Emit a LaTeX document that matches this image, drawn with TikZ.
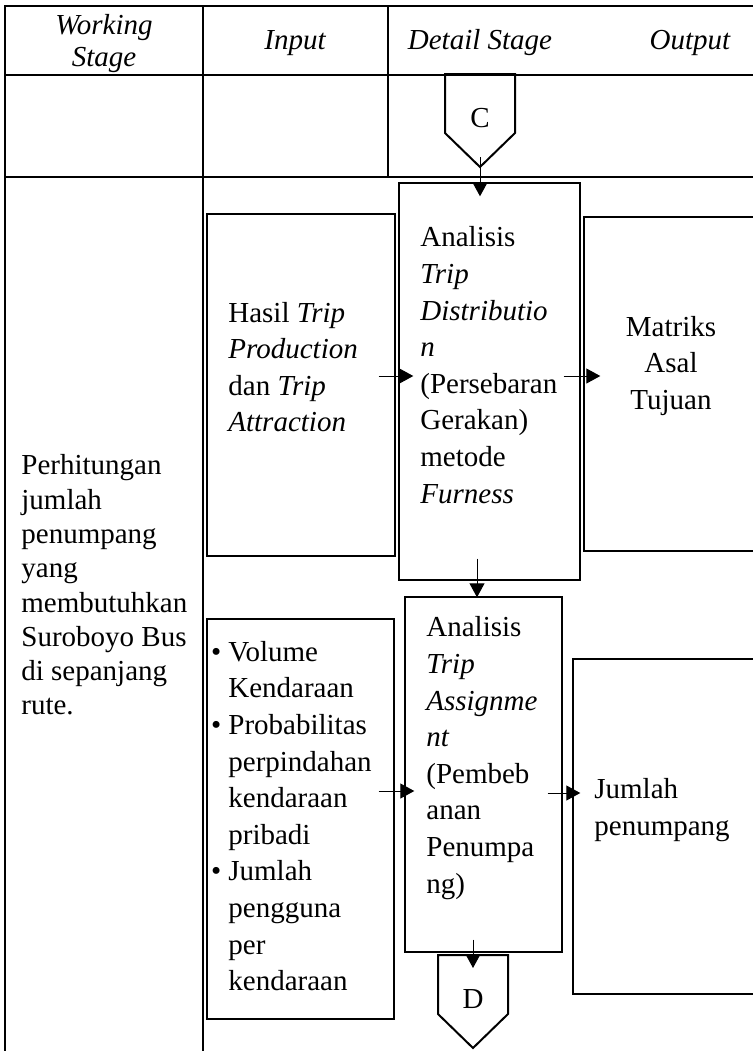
\documentclass[tikz,border=0pt]{standalone}
\usepackage{fontspec}
\setmainfont{Liberation Serif}
\usetikzlibrary{positioning,arrows.meta,calc,fit}
\newcommand{\listdot}{\llap{\textbullet\hspace{3.5pt}}}

\begin{document}
\begin{tikzpicture}[
    x=0.5pt, y=-0.5pt,
    grid/.style={line width=1pt},
    panel/.style={rectangle, draw, line width=0.7pt, inner sep=0pt},
    body/.style={font=\fontsize{14.5}{18.3}\selectfont, align=left, inner sep=0pt},
    head/.style={font=\fontsize{14.5}{16}\selectfont\itshape, align=center, inner sep=0pt},
    tag/.style={font=\fontsize{14.5}{16}\selectfont, inner sep=0pt},
    flow/.style={-{Triangle[length=7pt,width=7.5pt]}, line width=0.5pt},
    pent/.style={line width=1pt}
]
\path[use as bounding box, clip] (0,0) rectangle (753,1051);

% table grid
\draw[grid] (5,1051) -- (5,6) -- (753,6);
\draw[grid] (5,75) -- (753,75);
\draw[grid] (5,177) -- (753,177);
\draw[grid] (203,6) -- (203,1051);
\draw[grid] (388,6) -- (388,177);

% header row
\node[head] (hStage) at (104,44) {Working\\Stage};
\node[head] (hInput) at (295,43) {Input};
\node[head] (hDetail) at (480,43) {Detail Stage};
\node[head] (hOutput) at (690,43) {Output};

% off-page connectors
\node[tag] (C) at (480,118) {C};
\draw[pent] ($(C)+(-35,-44)$) -- ($(C)+(-35,15)$) -- ($(C)+(0,49)$) -- ($(C)+(35,15)$) -- ($(C)+(35,-44)$) -- cycle;
\node[tag] (D) at (473,999) {D};
\draw[pent] ($(D)+(-35,-44)$) -- ($(D)+(-35,15)$) -- ($(D)+(0,49)$) -- ($(D)+(35,15)$) -- ($(D)+(35,-44)$) -- cycle;

% boxes
\node[panel, fit={(207,214)(395,556)}] (hasil) {};
\node[panel, fit={(399,183)(580,580)}] (dist) {};
\node[panel, fit={(584,217)(770,551)}] (matriks) {};
\node[panel, fit={(207,619)(394,1019)}] (volume) {};
\node[panel, fit={(405,597)(562,952)}] (assign) {};
\node[panel, fit={(573,659)(770,994)}] (jumlah) {};

% texts
\node[body, font=\fontsize{14.5}{17.15}\selectfont, anchor=west] (stageT) at (21,585)
    {Perhitungan\\jumlah\\penumpang\\yang\\membutuhkan\\Suroboyo Bus\\di sepanjang\\rute.};
\node[body, anchor=west] (hasilT) at (228,367)
    {Hasil \textit{Trip}\\\textit{Production}\\dan \textit{Trip}\\\textit{Attraction}};
\node[body, anchor=west] (distT) at (420,365)
    {Analisis\\\textit{Trip}\\\textit{Distributio}\\\textit{n}\\(Persebaran\\Gerakan)\\metode\\\textit{Furness}};
\node[body, align=center] (matriksT) at (671,366) {Matriks\\Asal\\Tujuan};
\node[body, anchor=west] (volumeT) at (228,816)
    {\listdot Volume\\Kendaraan\\\listdot Probabilitas\\perpindahan\\kendaraan\\pribadi\\\listdot Jumlah\\pengguna\\per\\kendaraan};
\node[body, anchor=west] (assignT) at (426,758)
    {Analisis\\\textit{Trip}\\\textit{Assignme}\\\textit{nt}\\(Pembeb\\anan\\Penumpa\\ng)};
\node[body, anchor=west] (jumlahT) at (594,810) {Jumlah\\penumpang};

% connectors
\draw[flow] ($(C)+(0,39)$) -- ($(C |- dist.north)+(0,14)$);
\draw[flow] ([shift={(-17,-9)}]hasil.east) -- ([shift={(15,-5.5)}]dist.west);
\draw[flow] ([shift={(-17,-5.5)}]dist.east) -- ([shift={(17,-8)}]matriks.west);
\draw[flow] ([shift={(-12.5,-22)}]dist.south) -- ([shift={(-6.5,1)}]assign.north);
\draw[flow] ([shift={(-16,-28)}]volume.east) -- ([shift={(10,16.5)}]assign.west);
\draw[flow] ([shift={(-15,18.5)}]assign.east) -- ([shift={(8,-33.5)}]jumlah.west);
\draw[flow] ([shift={(-10.5,-13)}]assign.south) -- ($(D)+(0,-31)$);
\end{tikzpicture}
\end{document}
